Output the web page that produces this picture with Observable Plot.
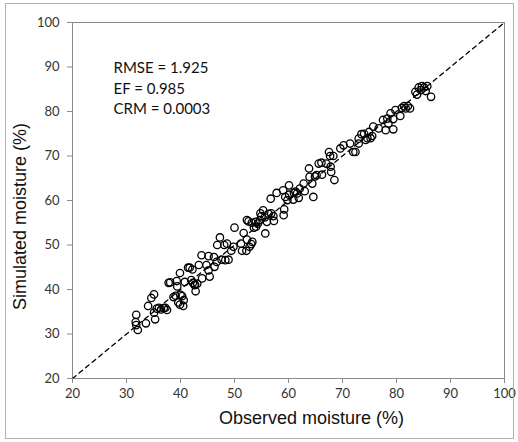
<!DOCTYPE html>
<html>
<head>
<meta charset="utf-8">
<script src="https://cdn.jsdelivr.net/npm/d3@7"></script>
<script src="https://cdn.jsdelivr.net/npm/@observablehq/plot@0.6"></script>
<style>
  html, body { margin: 0; padding: 0; background: #fff; }
  #wrap { position: relative; width: 518px; height: 442px; overflow: hidden; }
  #border { position: absolute; left: 5px; top: 3px; width: 509px; height: 436px; border: 1px solid #b0b0b0; box-sizing: border-box; pointer-events: none; }
  #chart { position: absolute; left: 0; top: 0; }
</style>
</head>
<body>
<div id="wrap"><div id="chart"></div><div id="border"></div></div>
<script>
const observed = [
  31.8,31.7,31.8,32.1,33.6,34.0,34.6,35.1,35.1,35.3,35.6,36.0,36.9,37.2,37.5,36.4,
  37.8,38.1,38.7,39.1,39.3,39.4,39.6,39.9,40.0,39.9,40.3,40.5,40.6,40.8,
  41.4,41.7,42.2,42.0,42.3,42.6,42.8,43.1,42.7,43.4,43.9,44.0,44.8,45.2,45.2,45.4,
  46.2,46.3,46.7,46.8,47.3,47.6,48.1,48.6,48.3,48.9,49.4,49.8,50.0,
  51.2,51.4,51.7,52.2,52.3,52.3,52.6,52.8,53.1,53.3,53.6,53.9,54.3,54.7,54.8,55.3,
  55.6,55.7,56.0,56.7,56.8,57.2,57.3,57.8,53.2,54.0,55.0,56.3,
  59.1,59.2,59.0,59.4,59.8,60.1,60.1,60.9,61.0,61.3,61.6,61.9,62.1,62.8,63.0,
  63.8,63.9,64.4,64.6,64.9,65.2,65.6,66.1,66.2,67.0,67.5,67.7,67.8,67.9,68.3,68.5,
  69.6,70.2,71.4,72.0,72.4,73.0,73.0,73.5,74.0,74.3,74.6,74.9,75.2,75.5,75.7,
  76.7,77.5,78.0,78.3,78.5,78.9,79.4,79.4,79.8,80.7,81.0,81.4,81.7,82.1,82.5,
  83.5,83.8,84.1,84.5,84.7,85.1,85.4,85.7,86.4
];
const simulated = [
  34.3,32.7,32.0,30.9,32.4,36.3,38.1,38.9,34.8,33.3,35.7,35.9,35.8,35.9,35.4,35.5,
  41.5,41.6,38.3,38.6,41.9,40.7,37.1,43.7,38.8,36.6,38.5,36.3,37.6,41.7,
  44.9,44.9,44.5,42.1,41.5,41.0,39.6,41.3,41.1,45.5,47.7,42.5,45.5,47.5,44.3,42.9,
  47.3,45.1,46.2,50.0,51.7,46.7,50.0,50.3,46.6,46.7,48.7,49.6,53.9,
  50.3,48.7,52.7,48.7,51.2,55.6,55.3,49.6,50.2,50.7,53.9,55.2,54.8,55.6,57.1,57.8,
  56.2,52.6,55.2,60.4,57.1,56.5,55.4,61.7,55.0,54.1,56.5,57.0,
  56.7,58.0,62.3,60.8,60.1,63.4,61.3,60.2,61.7,62.0,61.6,60.6,62.7,63.8,62.1,
  67.2,65.3,63.8,60.8,65.4,65.7,68.3,68.5,65.8,68.3,70.9,70.0,67.6,66.4,70.0,64.6,
  71.7,72.4,72.8,70.9,70.9,72.8,73.9,74.9,75.0,73.6,74.0,75.4,74.0,74.5,76.6,
  76.2,78.1,75.8,78.4,77.3,79.6,76.0,78.3,80.3,79.0,80.8,81.2,80.7,81.2,80.7,
  84.4,83.8,85.4,84.8,85.7,85.4,84.6,85.7,83.3
];
const axisTicks = [20, 30, 40, 50, 60, 70, 80, 90, 100];
const oneToOne = [20, 100];
const statsLines = ["RMSE = 1.925", "EF = 0.985", "CRM = 0.0003"];
const xLabel = "Observed moisture (%)";
const yLabel = "Simulated moisture (%)";

const points = observed.map((o, i) => ({obs: o, sim: simulated[i]}));

const tickFont = "Lato, 'Open Sans', sans-serif";
const labelFont = "'Liberation Sans', Arial, sans-serif";

const chart = Plot.plot({
  width: 518,
  height: 442,
  marginLeft: 72,
  marginRight: 14,
  marginTop: 22,
  marginBottom: 64,
  style: {background: "transparent", fontFamily: tickFont},
  x: {domain: [20, 100], label: null},
  y: {domain: [20, 100], label: null},
  marks: [
    Plot.frame({stroke: "#8a8a8a", strokeWidth: 1}),
    Plot.line(oneToOne, {x: d => d, y: d => d, stroke: "#000", strokeWidth: 1.3, strokeDasharray: "4.5,4"}),
    Plot.dot(points, {x: "obs", y: "sim", r: 3.7, stroke: "#000", strokeWidth: 1.3, fill: "none"}),
    Plot.axisX({ticks: axisTicks, tickSize: 5, tickPadding: 5, stroke: "#8a8a8a", fill: "#333", fontSize: 13, label: null}),
    Plot.axisY({ticks: axisTicks, tickSize: 5, tickPadding: 8, stroke: "#8a8a8a", fill: "#333", fontSize: 13, label: null}),
    Plot.text([statsLines.join("\n")], {frameAnchor: "top-left", textAnchor: "start", lineAnchor: "top", dx: 41, dy: 36, fontSize: 15, lineHeight: 1.37, fill: "#111", fontFamily: tickFont}),
    Plot.text([xLabel], {frameAnchor: "bottom", textAnchor: "middle", lineAnchor: "middle", dx: 23, dy: 40, fontSize: 18, fill: "#111", fontFamily: labelFont}),
    Plot.text([yLabel], {frameAnchor: "left", textAnchor: "middle", lineAnchor: "middle", rotate: -90, dx: -52, dy: 16, fontSize: 18, fill: "#111", fontFamily: labelFont})
  ]
});
document.getElementById("chart").appendChild(chart);
</script>
</body>
</html>
